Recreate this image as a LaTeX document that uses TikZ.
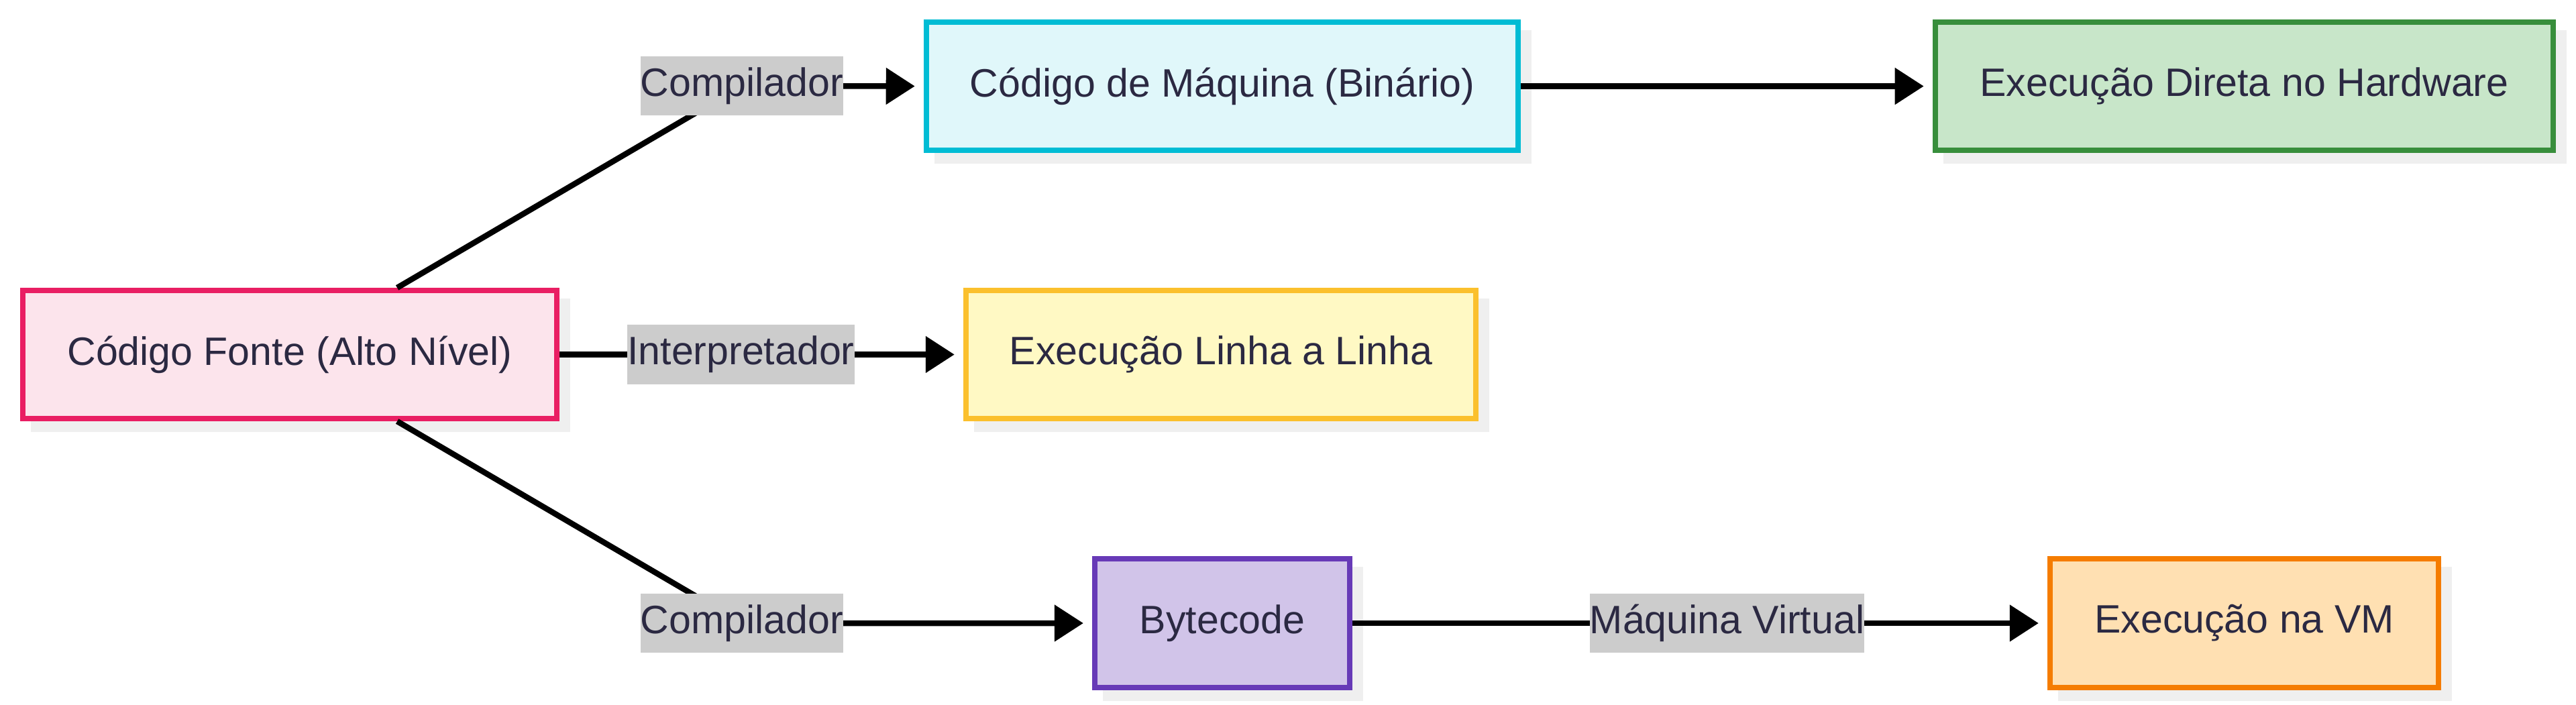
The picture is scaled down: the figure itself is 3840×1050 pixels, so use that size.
\documentclass[tikz,border=0pt]{standalone}
\usepackage{fontspec}
\setmainfont{Liberation Sans}
\usetikzlibrary{arrows.meta,shadows}
\definecolor{txt}{RGB}{43,41,66}
\definecolor{shadowgray}{RGB}{239,239,239}
\definecolor{lblgray}{RGB}{204,204,204}
\definecolor{pinkF}{HTML}{FCE4EC}\definecolor{pinkD}{HTML}{E91E63}
\definecolor{cyanF}{HTML}{E0F7FA}\definecolor{cyanD}{HTML}{00BCD4}
\definecolor{greenF}{HTML}{C8E6C9}\definecolor{greenD}{HTML}{388E3C}
\definecolor{yellowF}{HTML}{FFF9C4}\definecolor{yellowD}{HTML}{FBC02D}
\definecolor{purpleF}{HTML}{D1C4E9}\definecolor{purpleD}{HTML}{673AB7}
\definecolor{orangeF}{HTML}{FFE0B2}\definecolor{orangeD}{HTML}{F57C00}
\begin{document}
\begin{tikzpicture}[x=0.01cm,y=-0.01cm,
  every node/.style={font=\fontsize{16.8pt}{20pt}\selectfont, text=txt},
  box/.style={draw, line width=0.08cm, minimum height=1.91cm, inner sep=0pt,
    drop shadow={shadow xshift=0.16cm, shadow yshift=-0.16cm, fill=shadowgray, draw=shadowgray, line width=0.08cm, opacity=1}},
  lbl/.style={fill=lblgray, inner xsep=0pt, inner ysep=0pt, minimum height=0.88cm},
  conn/.style={line width=0.085cm, draw=black},
  arr/.style={conn, -{Triangle[length=0.43cm,width=0.53cm]}, shorten >=0.13cm}
]
\useasboundingbox (0,0) rectangle (3840,1050);
% nodes
\node[box, fill=pinkF, draw=pinkD, minimum width=7.96cm] (A) at (432,528.5) {Código Fonte (Alto Nível)};
\node[box, fill=cyanF, draw=cyanD, minimum width=8.82cm] (B) at (1822,128.5) {Código de Máquina (Binário)};
\node[box, fill=greenF, draw=greenD, minimum width=9.21cm] (C) at (3345.5,128.5) {Execução Direta no Hardware};
\node[box, fill=yellowF, draw=yellowD, minimum width=7.60cm] (L) at (1820,528.5) {Execução Linha a Linha};
\node[box, fill=purpleF, draw=purpleD, minimum width=3.80cm] (BC) at (1822,929) {Bytecode};
\node[box, fill=orangeF, draw=orangeD, minimum width=5.79cm] (VM) at (3345.5,929) {Execução na VM};
% label positions
\coordinate (l1c) at (1106,128);
\coordinate (l2c) at (1104.5,528.5);
\coordinate (l3c) at (1106,929);
\coordinate (l4c) at (2574.5,929);
% edges
\draw[arr] ([xshift=1.6cm]A.north) -- (l1c) -- (B.west);
\draw[arr] (A.east) -- (l2c) -- (L.west);
\draw[arr] ([xshift=1.6cm]A.south) -- (l3c) -- (BC.west);
\draw[arr] (B.east) -- (C.west);
\draw[arr] (BC.east) -- (l4c) -- (VM.west);
% labels
\node[lbl] (l1) at (l1c) {Compilador};
\node[lbl] (l2) at (l2c) {Interpretador};
\node[lbl] (l3) at (l3c) {Compilador};
\node[lbl] (l4) at (l4c) {Máquina Virtual};
\end{tikzpicture}
\end{document}
